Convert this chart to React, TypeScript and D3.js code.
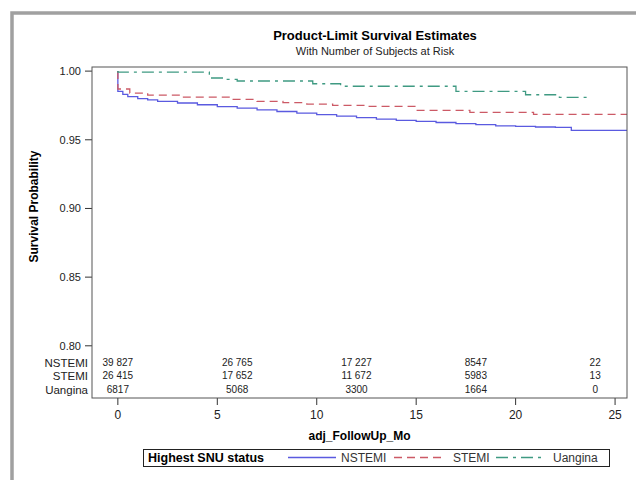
import React from "react";
import * as d3 from "d3";

const W = 636, H = 480;
const left = 92, right = 627, top = 67, bottom = 398;

// Kaplan-Meier step estimates (time in months, survival)
const nstemiTime = [0, 0, 0.25, 0.5, 1, 1.5, 2, 3, 4, 5, 6, 7, 8, 9, 10, 11, 12, 13, 14, 15, 16, 17, 18, 19, 20, 21, 22, 22.8, 25.6];
const nstemiSurv = [1, 0.9852, 0.983, 0.9815, 0.98, 0.979, 0.978, 0.9768, 0.9755, 0.9742, 0.973, 0.9718, 0.9706, 0.9694, 0.9683, 0.9672, 0.9662, 0.9651, 0.9642, 0.9634, 0.9626, 0.9617, 0.961, 0.9602, 0.9597, 0.9593, 0.959, 0.9569, 0.9569];

const stemiTime = [0, 0, 0.6, 1.5, 3.3, 5.8, 7, 8.3, 9.5, 10.8, 12.5, 15, 17.7, 20.9, 25.6];
const stemiSurv = [1, 0.987, 0.984, 0.9825, 0.981, 0.9794, 0.978, 0.977, 0.976, 0.975, 0.9743, 0.9714, 0.97, 0.9685, 0.9685];

const uanginaTime = [0, 0, 4.6, 5.3, 6, 9.8, 11.2, 17, 20.5, 22.2, 23.7];
const uanginaSurv = [1, 0.9993, 0.995, 0.994, 0.9928, 0.9908, 0.989, 0.9852, 0.9828, 0.9809, 0.9809];

// number at risk table
const riskTimes = [0, 6, 12, 18, 24];
const riskGroups = ["NSTEMI", "STEMI", "Uangina"];
const riskNstemi = ["39 827", "26 765", "17 227", "8547", "22"];
const riskStemi = ["26 415", "17 652", "11 672", "5983", "13"];
const riskUangina = ["6817", "5068", "3300", "1664", "0"];

const xTicks = [0, 5, 10, 15, 20, 25];
const yTicks = [0.8, 0.85, 0.9, 0.95, 1.0];

const font = "'Liberation Sans', Arial, sans-serif";

const series = [
  { name: "NSTEMI", t: nstemiTime, s: nstemiSurv, color: "#5a5ae0", dash: "" },
  { name: "STEMI", t: stemiTime, s: stemiSurv, color: "#cc5a66", dash: "8,5" },
  { name: "Uangina", t: uanginaTime, s: uanginaSurv, color: "#3f9a82", dash: "12,5,3,5" },
];

export default function App() {
  const x = d3.scaleLinear().domain([-1.3, 25.6]).range([left, right]);
  const y = d3.scaleLinear().domain([0.762, 1.003]).range([bottom, top]);

  const line = d3.line<[number, number]>()
    .x(d => x(d[0]))
    .y(d => y(d[1]))
    .curve(d3.curveStepAfter);

  const riskRows = [riskNstemi, riskStemi, riskUangina];
  const rowY = [367, 380, 394];

  // legend layout
  const legY = 457.5;
  const legItems = [
    { x1: 288, x2: 336, tx: 341 },
    { x1: 394, x2: 444, tx: 453 },
    { x1: 496, x2: 546, tx: 553 },
  ];

  return (
    <svg width={W} height={H} style={{ position: "absolute", left: 0, top: 0, background: "#fff" }} fontFamily={font}>
      <defs>
        <clipPath id="plot">
          <rect x={left} y={top} width={right - left} height={bottom - top} />
        </clipPath>
      </defs>

      {/* outer gray frame */}
      <rect x={12} y={13} width={W + 20} height={H + 20} fill="none" stroke="#a0a0a0" strokeWidth={3.5} />

      <text x={375} y={40} textAnchor="middle" fontSize={13} fontWeight="bold">Product-Limit Survival Estimates</text>
      <text x={375} y={55} textAnchor="middle" fontSize={11} fill="#222">With Number of Subjects at Risk</text>

      {/* y axis */}
      {yTicks.map(v => (
        <g key={v}>
          <line x1={85} x2={left} y1={y(v)} y2={y(v)} stroke="#333" />
          <text x={81} y={y(v) + 4} textAnchor="end" fontSize={11} fill="#222">{v.toFixed(2)}</text>
        </g>
      ))}
      <text transform={`translate(38,${(top + 346) / 2}) rotate(-90)`} textAnchor="middle" fontSize={12} fontWeight="bold">Survival Probability</text>

      {/* x axis */}
      {xTicks.map(v => (
        <g key={v}>
          <line x1={x(v)} x2={x(v)} y1={bottom} y2={bottom + 7} stroke="#333" />
          <text x={x(v)} y={419} textAnchor="middle" fontSize={12} fill="#222">{v}</text>
        </g>
      ))}
      <text x={(left + right) / 2} y={440} textAnchor="middle" fontSize={12} fontWeight="bold">adj_FollowUp_Mo</text>

      {/* curves */}
      <g clipPath="url(#plot)">
        {series.map(sr => (
          <path key={sr.name}
            d={line(sr.t.map((t, i) => [t, sr.s[i]] as [number, number])) || ""}
            fill="none" stroke={sr.color} strokeWidth={1.3} strokeDasharray={sr.dash} />
        ))}
      </g>

      {/* risk table */}
      {riskGroups.map((g, r) => (
        <g key={g}>
          <text x={88} y={rowY[r]} textAnchor="end" fontSize={11.5} fill="#222">{g}</text>
          {riskRows[r].map((v, i) => (
            <text key={i} x={x(riskTimes[i])} y={rowY[r] - 1} textAnchor="middle" fontSize={10} fill="#222">{v}</text>
          ))}
        </g>
      ))}

      <rect x={left} y={top} width={right - left} height={bottom - top} fill="none" stroke="#555" strokeWidth={1} />

      {/* legend */}
      <rect x={143.5} y={449.5} width={466} height={17} fill="#fff" stroke="#222" strokeWidth={1} />
      <text x={148} y={462} fontSize={12.5} fontWeight="bold">Highest SNU status</text>
      {series.map((sr, i) => (
        <g key={sr.name}>
          <line x1={legItems[i].x1} x2={legItems[i].x2} y1={legY} y2={legY} stroke={sr.color} strokeWidth={1.3} strokeDasharray={sr.dash} />
          <text x={legItems[i].tx} y={462} fontSize={12} fill="#333">{sr.name}</text>
        </g>
      ))}
    </svg>
  );
}
